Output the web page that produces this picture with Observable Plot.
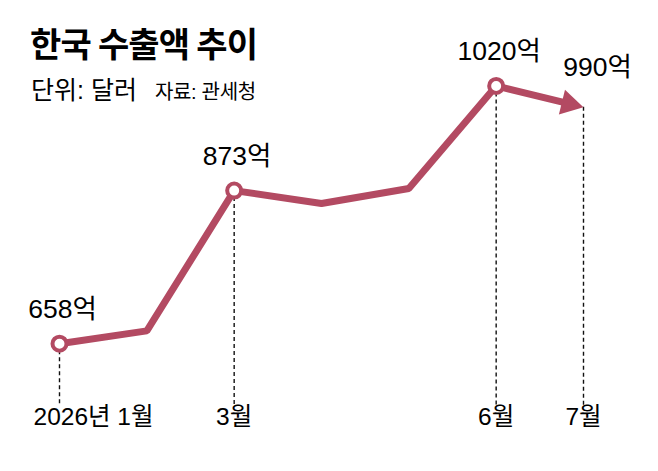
<!DOCTYPE html>
<html>
<head>
<meta charset="utf-8">
<script src="https://cdn.jsdelivr.net/npm/d3@7"></script>
<script src="https://cdn.jsdelivr.net/npm/@observablehq/plot@0.6"></script>
<style>
  body { margin: 0; background: #fff; }
  #wrap { position: relative; width: 658px; height: 471px; font-family: "Liberation Sans", "Noto Sans CJK KR", sans-serif; color: #000; }
  #wrap svg { display: block; }
  #title { position: absolute; left: 30px; top: 26px; font-size: 34px; line-height: 1; font-weight: 700; letter-spacing: -0.8px; white-space: nowrap; font-family: "Noto Sans CJK KR", sans-serif; }
  #sub { position: absolute; left: 31px; top: 78px; font-size: 25px; line-height: 1; letter-spacing: 0px; white-space: nowrap; }
  #sub .src { font-size: 20px; letter-spacing: -0.3px; margin-left: 18px; }
</style>
</head>
<body>
<div id="wrap">
  <div id="title">한국 수출액 추이</div>
  <div id="sub">단위: 달러<span class="src">자료: 관세청</span></div>
</div>
<script>
const months = [1, 2, 3, 4, 5, 6, 7];
const exportValues = [658, 676, 873, 855, 876, 1020, 990];
const labeledMonths = [1, 3, 6];
const valueLabels = ["658억", "873억", "1020억"];
const arrowLabel = "990억";
const tickMonths = [1, 3, 6, 7];
const tickLabels = ["2026년 1월", "3월", "6월", "7월"];
const yDomain = [574, 1100];

const color = "#b34a62";
const valueOf = m => exportValues[months.indexOf(m)];

const series = months.map((m, i) => ({month: m, value: exportValues[i]}));
const lineData = series.slice(0, series.length - 1);
const last = series[series.length - 1];
const prev = series[series.length - 2];
const labeled = labeledMonths.map((m, i) => ({month: m, value: valueOf(m), label: valueLabels[i]}));
const ticks = tickMonths.map((m, i) => ({month: m, value: valueOf(m), label: tickLabels[i]}));

const chart = Plot.plot({
  width: 658,
  height: 471,
  marginLeft: 59,
  marginRight: 75,
  marginTop: 28.5,
  marginBottom: 66,
  style: {fontFamily: '"Liberation Sans", "Noto Sans CJK KR", sans-serif', background: "transparent"},
  x: {domain: [1, 7], axis: null},
  y: {domain: [yDomain[0] - 2.8, yDomain[1]], axis: null},
  marks: [
    Plot.ruleX(ticks, {x: "month", y1: "value", y2: yDomain[0] - 2.8, stroke: "#111", strokeWidth: 1.4, strokeDasharray: "4,3"}),
    Plot.line(lineData, {x: "month", y: "value", stroke: color, strokeWidth: 7, strokeLinejoin: "miter", strokeLinecap: "butt"}),
    Plot.arrow([{x1: prev.month, y1: prev.value, x2: last.month, y2: last.value}], {
      x1: "x1", y1: "y1", x2: "x2", y2: "y2", stroke: color, strokeWidth: 7, headLength: 0, insetEnd: 12
    }),
    Plot.dot([last], {x: "month", y: "value", symbol: "triangle", r: 9.5, fill: color, stroke: "none", rotate: 103.8, dx: -14.4, dy: -3.5}),
    Plot.dot(labeled, {x: "month", y: "value", r: 7, fill: "white", stroke: color, strokeWidth: 4}),
    Plot.text(labeled, {x: "month", y: "value", text: "label", dy: -34, dx: 3, fontSize: 26.5, fill: "#000"}),
    Plot.text([last], {x: "month", y: "value", text: () => arrowLabel, dy: -40, dx: 14, fontSize: 26.5, fill: "#000"}),
    Plot.text(ticks.slice(0, 1), {x: "month", text: "label", frameAnchor: "bottom", dy: 19, dx: -26, textAnchor: "start", fontSize: 24.5, fill: "#000"}),
    Plot.text(ticks.slice(1), {x: "month", text: "label", frameAnchor: "bottom", dy: 19, fontSize: 24.5, fill: "#000"})
  ]
});
document.getElementById("wrap").prepend(chart);
</script>
</body>
</html>
